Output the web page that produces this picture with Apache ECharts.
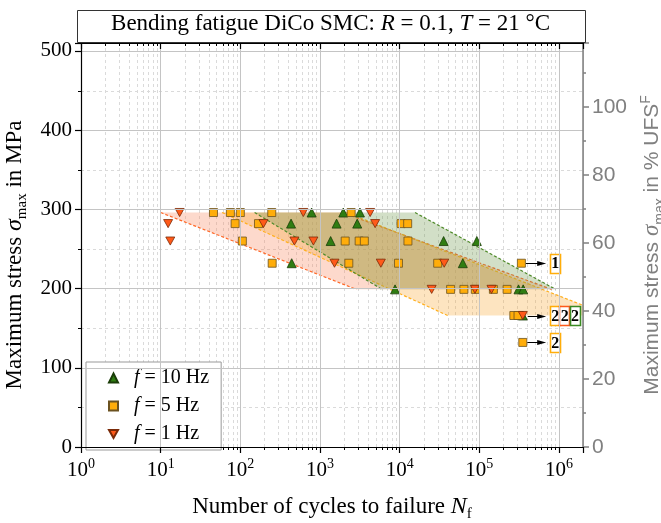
<!DOCTYPE html>
<html><head><meta charset="utf-8">
<script src="https://cdn.jsdelivr.net/npm/echarts@6/dist/echarts.min.js"></script>
<style>html,body{margin:0;padding:0;background:#fff}#c{width:661px;height:523px}</style>
</head><body><div id="c"></div>
<script>
// ---------- data ----------
const cycles10Hz = [785, 1960, 3170, 433, 1615, 2930, 1360, 35600, 93000, 441, 62000, 8750, 310000, 355000, 351000];
const stress10Hz = [296, 296, 296, 282, 282, 282, 260, 260, 260, 232, 232, 199, 199, 199, 166];

const cycles5Hz = [46, 75, 100, 248, 2460, 86, 169, 10400, 12600, 106, 2070, 3100, 3600, 12700,
                   251, 2300, 9660, 30000, 337000, 43600, 64000, 89000, 150000, 223000, 271000, 306000, 351000];
const stress5Hz = [296, 296, 296, 296, 296, 282, 282, 282, 282, 260, 260, 260, 260, 260,
                   232, 232, 232, 232, 232, 199, 199, 199, 199, 199, 166, 166, 132];

const cycles1Hz = [17.3, 617, 4260, 12.4, 195, 4920, 13.2, 477, 826, 1520, 5800, 36200, 25200, 88000, 142000, 351000];
const stress1Hz = [296, 296, 296, 282, 282, 282, 260, 260, 260, 232, 232, 232, 199, 199, 199, 166];

// scatter bands: [top-left, top-right, bottom-right, bottom-left] as [cycles, stress]
const band10Hz = [[151, 296], [15600, 296], [906000, 199], [6000, 199]];
const band5Hz  = [[59, 296], [2130, 296], [4250000, 166], [40000, 166]];
const band1Hz  = [[10, 296], [1900, 296], [808000, 199], [2850, 199]];

// run-outs: arrows [from cycles, stress, to cycles]; boxes [cycles, stress, count, frequency index 0=10Hz 1=5Hz 2=1Hz]
const runoutArrows = [[382000, 232, 690000], [405000, 166, 690000], [400000, 132, 690000]];
const runoutBoxes = [[881000, 232, 1, 1], [881000, 166, 2, 1], [1165000, 166, 2, 2], [1567000, 166, 2, 0], [881000, 132, 2, 1]];

// axes
const decadeLabels = ['0', '1', '2', '3', '4', '5', '6'];
const stressTicks = [0, 100, 200, 300, 400, 500];
const ufsTicks = [0, 20, 40, 60, 80, 100];
const minorMultipliers = [2, 3, 4, 5, 6, 7, 8, 9];
const minorDecades = [1, 10, 100, 1000, 10000, 100000];
const minorStress = [50, 150, 250, 350, 450];
const X_MIN = 1, X_MAX = 2000000, Y_MAX = 510, UFS_MPA = 429;

// ---------- styles ----------
const SERIF = 'Liberation Serif', SANS = 'Liberation Sans';
const freqColors = ['#2f7d12', '#ffad0a', '#ff5a1a'];
const boxColors = ['#3a8a22', '#ffad0a', '#ff5a1a'];
const minorCycles = [];
minorDecades.forEach(d => minorMultipliers.forEach(m => minorCycles.push(m * d)));

function pairs(xs, ys) { return xs.map((x, i) => [x, ys[i]]); }
function mkRich(fam, size, color, subSize, iSize) {
  return {
    n: { fontFamily: fam, fontSize: size, fontWeight: 'normal', color: color, verticalAlign: 'middle', lineHeight: 24 },
    i: { fontFamily: SERIF, fontSize: iSize, fontStyle: 'italic', fontWeight: 'normal', color: color, verticalAlign: 'middle', lineHeight: 24 },
    s: { fontFamily: fam, fontSize: subSize, fontWeight: 'normal', color: color, verticalAlign: 'middle', lineHeight: subSize, padding: [15, 0, 0, 0] },
    p: { fontFamily: fam, fontSize: subSize, fontWeight: 'normal', color: color, verticalAlign: 'middle', lineHeight: subSize, padding: [0, 0, 13, 0] }
  };
}
const rich = mkRich(SERIF, 23, '#000', 15, 24);
const richTitle = mkRich(SERIF, 23, '#000', 15, 23);
const richGrey = mkRich(SANS, 21, '#808080', 14, 23);

function bandSeries(pts, fill, stroke) {
  return {
    type: 'custom', xAxisIndex: 0, yAxisIndex: 0, clip: true, z: 2, silent: true,
    data: pts, encode: { x: 0, y: 1 },
    renderItem(params, api) {
      if (params.dataIndexInside !== 0) return null;
      const p = [];
      for (let k = 0; k < params.dataInsideLength; k++) p.push(api.coord([api.value(0, k), api.value(1, k)]));
      return {
        type: 'group', children: [
          { type: 'polygon', shape: { points: p }, style: { fill: fill } },
          { type: 'line', shape: { x1: p[0][0], y1: p[0][1], x2: p[3][0], y2: p[3][1] }, style: { stroke: stroke, lineWidth: 1.2, lineDash: [3, 2] } },
          { type: 'line', shape: { x1: p[1][0], y1: p[1][1], x2: p[2][0], y2: p[2][1] }, style: { stroke: stroke, lineWidth: 1.2, lineDash: [3, 2] } }
        ]
      };
    }
  };
}

const downTri = 'path://M0,0L10,0L5,9Z';
const series = [
  { // minor vertical grid + minor ticks on bottom & top
    type: 'custom', z: 1, silent: true, xAxisIndex: 0, yAxisIndex: 0,
    data: minorCycles.map(c => [c, 0]), encode: { x: 0, y: 1 },
    renderItem(params, api) {
      const a = api.coord([api.value(0), 0]), b = api.coord([api.value(0), Y_MAX]);
      const x = Math.round(a[0]) + 0.5;
      return { type: 'group', children: [
        { type: 'line', shape: { x1: x, y1: a[1], x2: x, y2: b[1] }, style: { stroke: '#dadada', lineWidth: 1, lineDash: [3, 3] } },
        { type: 'line', shape: { x1: x, y1: a[1], x2: x, y2: a[1] + 3 }, style: { stroke: '#000', lineWidth: 1 } },
        { type: 'line', shape: { x1: x, y1: b[1], x2: x, y2: b[1] + 3 }, style: { stroke: '#000', lineWidth: 1 } }
      ] };
    }
  },
  { // minor horizontal grid + minor ticks on left
    type: 'custom', z: 1, silent: true, xAxisIndex: 0, yAxisIndex: 0,
    data: minorStress.map(s => [X_MIN, s]), encode: { x: 0, y: 1 },
    renderItem(params, api) {
      const a = api.coord([X_MIN, api.value(1)]), b = api.coord([X_MAX, api.value(1)]);
      const y = Math.round(a[1]) + 0.5;
      return { type: 'group', children: [
        { type: 'line', shape: { x1: a[0], y1: y, x2: b[0], y2: y }, style: { stroke: '#dadada', lineWidth: 1, lineDash: [3, 3] } },
        { type: 'line', shape: { x1: a[0] - 3, y1: y, x2: a[0], y2: y }, style: { stroke: '#000', lineWidth: 1 } }
      ] };
    }
  },
  bandSeries(band1Hz, 'rgba(248,138,95,0.32)', '#ff6a2a'),
  bandSeries(band5Hz, 'rgba(250,165,45,0.30)', '#ffb020'),
  bandSeries(band10Hz, 'rgba(105,150,70,0.30)', '#4f8a2a'),
  { // run-out arrows
    type: 'custom', z: 3, silent: true, xAxisIndex: 0, yAxisIndex: 0,
    data: runoutArrows, encode: { x: 0, y: 1 },
    renderItem(params, api) {
      const a = api.coord([api.value(0), api.value(1)]), b = api.coord([api.value(2), api.value(1)]);
      const y = Math.round(a[1]) + 0.5;
      return { type: 'group', children: [
        { type: 'line', shape: { x1: a[0], y1: y, x2: b[0] - 6, y2: y }, style: { stroke: '#000', lineWidth: 1 } },
        { type: 'polygon', shape: { points: [[b[0], y], [b[0] - 9, y - 2.5], [b[0] - 9, y + 2.5]] }, style: { fill: '#000' } }
      ] };
    }
  },
  { // run-out count boxes
    type: 'custom', z: 3, silent: true, xAxisIndex: 0, yAxisIndex: 0,
    data: runoutBoxes, encode: { x: 0, y: 1 },
    renderItem(params, api) {
      const c = api.coord([api.value(0), api.value(1)]);
      const w = 10, h = 19;
      return { type: 'group', children: [
        { type: 'rect', shape: { x: Math.round(c[0] - w / 2) + 0.5, y: Math.round(c[1] - h / 2) + 0.5, width: w, height: h },
          style: { fill: '#fff', stroke: boxColors[api.value(3)], lineWidth: 1.6 } },
        { type: 'text', x: c[0] + 0.5, y: c[1] + 1, style: { text: String(api.value(2)), fontFamily: SERIF, fontWeight: 'bold', fontSize: 16, fill: '#000', align: 'center', verticalAlign: 'middle' } }
      ] };
    }
  },
  { name: '10 Hz', type: 'scatter', z: 4, data: pairs(cycles10Hz, stress10Hz), symbol: 'triangle', symbolSize: 9,
    itemStyle: { color: freqColors[0], borderColor: '#1b3d08', borderWidth: 0.8, opacity: 1 } },
  { name: '5 Hz', type: 'scatter', z: 4, data: pairs(cycles5Hz, stress5Hz), symbol: 'rect', symbolSize: 8,
    itemStyle: { color: freqColors[1], borderColor: '#6b5220', borderWidth: 0.8, opacity: 1 } },
  { name: '1 Hz', type: 'scatter', z: 4, data: pairs(cycles1Hz, stress1Hz), symbol: downTri, symbolSize: 9, symbolKeepAspect: true,
    itemStyle: { color: freqColors[2], borderColor: '#7a2a08', borderWidth: 0.8, opacity: 1 } }
];

const option = {
  animation: false,
  title: {
    text: '{n|Bending fatigue DiCo SMC: }{i|R}{n| = 0.1, }{i|T}{n| = 21 °C}',
    left: 'center', top: 12, padding: 0,
    textStyle: { fontWeight: 'normal', rich: richTitle }
  },
  graphic: [
    { type: 'rect', left: 75, top: 8, shape: { width: 508, height: 32 }, style: { fill: 'none', stroke: '#333', lineWidth: 1 }, z: 10, silent: true }
  ],
  legend: {
    orient: 'vertical', left: 86, top: 362, itemWidth: 9, itemHeight: 9, itemGap: 8,
    padding: [6, 12, 6, 22], borderColor: '#999', borderWidth: 1, backgroundColor: '#fff',
    data: [{ name: '10 Hz', icon: 'triangle' }, { name: '5 Hz', icon: 'rect' }, { name: '1 Hz', icon: downTri }],
    formatter: name => '{i|f}{n| = ' + name + '}',
    textStyle: { rich: {
      n: { fontFamily: SERIF, fontSize: 20, color: '#000', lineHeight: 20 },
      i: { fontFamily: SERIF, fontSize: 20, fontStyle: 'italic', color: '#000', lineHeight: 20, padding: [0, 0, 0, 11] } } }
  },
  grid: { left: 81, right: 78, top: 43, bottom: 76, containLabel: false, outerBoundsMode: 'none' },
  xAxis: [
    {
      type: 'log', logBase: 10, min: X_MIN, max: X_MAX, position: 'bottom', z: 5,
      axisLine: { show: true, onZero: false, lineStyle: { color: '#000', width: 1.2 } },
      axisTick: { show: true, inside: false, length: 6, lineStyle: { color: '#000', width: 1.2 } },
      axisLabel: {
        margin: 10, fontFamily: SERIF, fontSize: 21, color: '#000',
        formatter: v => { const e = Math.round(Math.log10(v)); return Math.abs(Math.log10(v) - e) < 1e-6 && e <= 6 ? '10{p|' + decadeLabels[e] + '}' : ''; },
        rich: { p: { fontFamily: SERIF, fontSize: 14, color: '#000', padding: [0, 0, 12, 0] } }
      },
      splitLine: { show: true, lineStyle: { color: '#c4c4c4', width: 1 } },
      name: '{n|Number of cycles to failure }{i|N}{s|f}', nameLocation: 'middle', nameGap: 48,
      nameTextStyle: { rich: rich }
    },
    {
      type: 'log', logBase: 10, min: X_MIN, max: X_MAX, position: 'top', z: 5,
      axisLine: { show: true, onZero: false, lineStyle: { color: '#000', width: 1.2 } },
      axisTick: { show: true, inside: true, length: 6, lineStyle: { color: '#000', width: 1.2 } },
      axisLabel: { show: false }, splitLine: { show: false }
    }
  ],
  yAxis: [
    {
      type: 'value', min: 0, max: Y_MAX, interval: 100, position: 'left', z: 5,
      axisLine: { show: true, onZero: false, lineStyle: { color: '#000', width: 1.2 } },
      axisTick: { show: true, inside: false, length: 6, lineStyle: { color: '#000', width: 1.2 } },
      axisLabel: { margin: 9, fontFamily: SERIF, fontSize: 21, color: '#000', formatter: v => stressTicks.includes(v) ? String(v) : '' },
      splitLine: { show: true, lineStyle: { color: '#c4c4c4', width: 1 } },
      name: '{n|Maximum stress }{i|σ}{s|max}{n| in MPa}', nameLocation: 'middle', nameGap: 49,
      nameTextStyle: { rich: rich, padding: [0, 20, 0, 0] }
    },
    {
      type: 'value', min: 0, max: Y_MAX / UFS_MPA * 100, interval: 20, position: 'right', z: 5,
      axisLine: { show: true, onZero: false, lineStyle: { color: '#808080', width: 1.5 } },
      axisTick: { show: true, inside: false, length: 6, lineStyle: { color: '#808080', width: 1.5 } },
      minorTick: { show: true, splitNumber: 2, length: 3, lineStyle: { color: '#808080', width: 1.5 } },
      axisLabel: { margin: 9, fontFamily: SANS, fontSize: 21, color: '#808080', formatter: v => ufsTicks.includes(v) ? String(v) : '' },
      splitLine: { show: false },
      name: '{n|Maximum stress }{i|σ}{s|max}{n| in % UFS}{p|F}', nameLocation: 'middle', nameGap: 49,
      nameTextStyle: { rich: richGrey }
    }
  ],
  series: series
};
const chart = echarts.init(document.getElementById('c'), null, { renderer: 'canvas' });
chart.setOption(option);
</script></body></html>
